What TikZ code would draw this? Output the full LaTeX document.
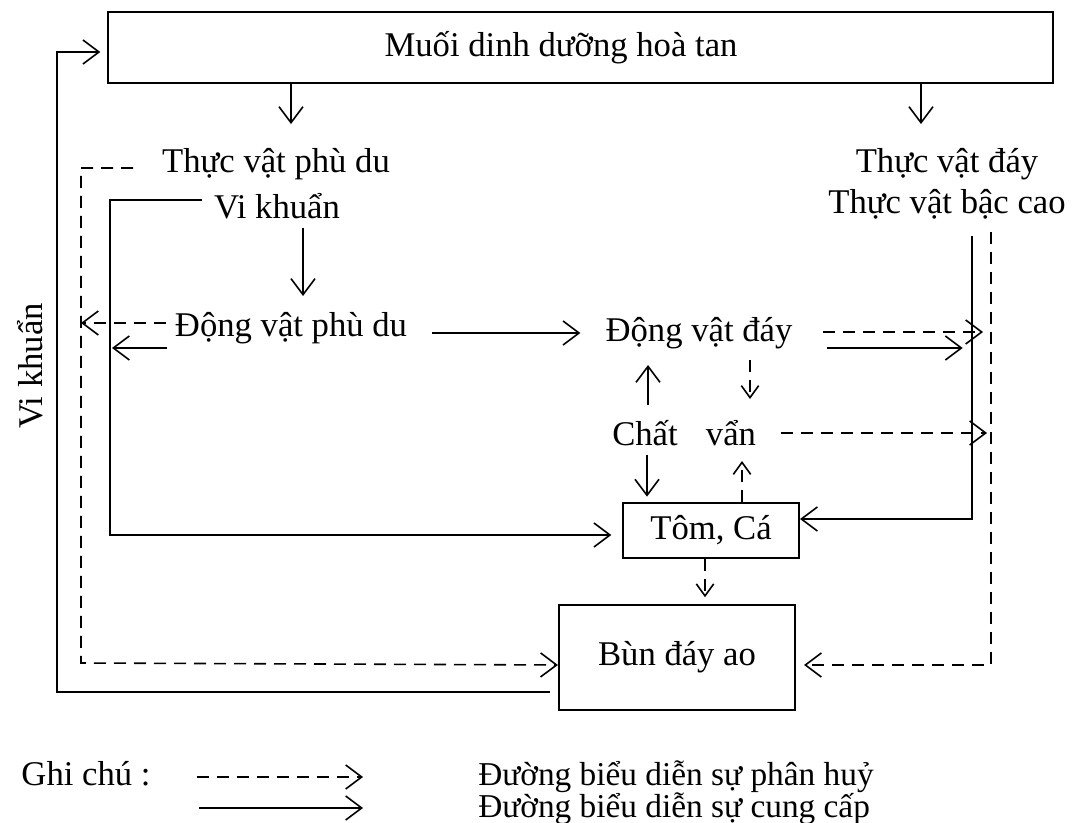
\documentclass[tikz,border=0pt]{standalone}
\usepackage{fontspec}
\setmainfont{Liberation Serif}
\usetikzlibrary{arrows.meta}

\begin{document}
\begin{tikzpicture}[x=0.75pt,y=0.75pt,yscale=-1,xscale=1,
  font=\fontsize{26}{31}\selectfont,
  cung/.style={line width=1.2pt,-{Straight Barb[length=12pt,width=18pt]}},
  phanhuy/.style={cung,dash pattern=on 9pt off 6pt},
  nho/.style={-{Straight Barb[length=9pt,width=13pt]}},
  hop/.style={draw,line width=1.6pt,inner sep=0pt},
  chu/.style={anchor=mid,inner sep=0.75pt}]
\useasboundingbox (0,0) rectangle (1072,823);

%Shape: Boxes
\node (muoi) [hop,minimum width=708.75pt,minimum height=53.25pt] at (580.5,47.5) {};
\node (tomca) [hop,minimum width=132pt,minimum height=41.25pt] at (711,530.5) {Tôm, Cá};
\node (bun) [hop,minimum width=177pt,minimum height=78.75pt] at (677,657.5) {Bùn đáy ao};

% Text Node
\node (muoitxt) [chu] at (561,53) {Muối dinh dưỡng hoà tan};
\node (tvpd) [chu] at (276,169) {Thực vật phù du};
\node (vikhuan) [chu] at (277,215) {Vi khuẩn};
\node (dvpd) [chu] at (291,333) {Động vật phù du};
\node (dvday) [chu] at (699,338) {Động vật đáy};
\node (chat) [chu] at (645,442) {Chất};
\node (van) [chu] at (731,442) {vẩn};
\node (tvday) [chu] at (947,169) {Thực vật đáy};
\node (tvbc) [chu] at (947,210) {Thực vật bậc cao};
\node (vkdoc) [chu,rotate=90] at (39,366) {Vi khuẩn};
% Legend
\node (ghichu) [chu] at (86,782) {Ghi chú :};
\node (phanhuy) [chu,anchor=mid west,font=\fontsize{25}{30}\selectfont] at (477,782) {Đường biểu diễn sự phân huỷ};
\node (cungcap) [chu,anchor=mid west,font=\fontsize{25}{30}\selectfont] at (477,814) {Đường biểu diễn sự cung cấp};

%Coordinates of the side lines
\coordinate (dtop) at (991,232);
\coordinate (dbot) at (991,665);
\coordinate (stop) at (972,236);
\coordinate (sbot) at (972,519);

%Straight Lines: supply
\draw [cung] (muoi.south -| dvpd) -- ++(0,40);
\draw [cung] (muoi.south -| 921,0) -- ++(0,40);
\draw [cung] (vikhuan.south -| 303,0) ++(0,8) -- (303,296);
\draw [cung,shorten <=18pt,shorten >=18pt] (dvpd.east |- 0,333) -- (dvday.west |- 0,333);
\draw [cung] (167,348) -- (112,348);
\draw [cung,shorten >=8pt] (202,200) -- (110,200) -- (110,535) -- (tomca.west |- 0,535);
\draw [cung,shorten <=6pt,shorten >=5pt] (bun.west |- 0,692) -- (57,692) -- (57,52) -- (muoi.west |- 0,52);
\draw [cung,shorten <=25pt,shorten >=7pt] (dvday.east |- 0,348) -- (stop |- 0,348);
\draw [cung] (stop) -- (sbot) -- (tomca.east |- sbot);
\draw [cung] (648,405) -- (648,365);
\draw [cung,shorten >=4pt] (647,455) -- (tomca.north -| 647,0);

%Dashed Lines: decomposition
\draw [phanhuy] (133,168) -- (81,168) -- (81,663) -- (bun.west |- dbot);
\draw [phanhuy] (166,323) -- (81,323);
\draw [phanhuy,shorten <=22pt,shorten >=6pt] (dvday.east |- 0,332) -- (dtop |- 0,332);
\draw [phanhuy,shorten <=18pt,shorten >=3pt] (van.east |- 0,433) -- (dtop |- 0,433);
\draw [phanhuy,nho] (750,360) -- (750,399);
\draw [phanhuy,nho] (tomca.north -| 742,0) -- (742,461);
\draw [phanhuy,shorten >=6pt] (dtop) -- (dbot) -- (bun.east |- dbot);
\draw [phanhuy,nho,shorten >=5pt] (tomca.south -| 705,0) -- (bun.north -| 705,0);

%Legend arrows
\draw [phanhuy] (197,777) -- (363,777);
\draw [cung] (199,808) -- (363,808);

\end{tikzpicture}
\end{document}
